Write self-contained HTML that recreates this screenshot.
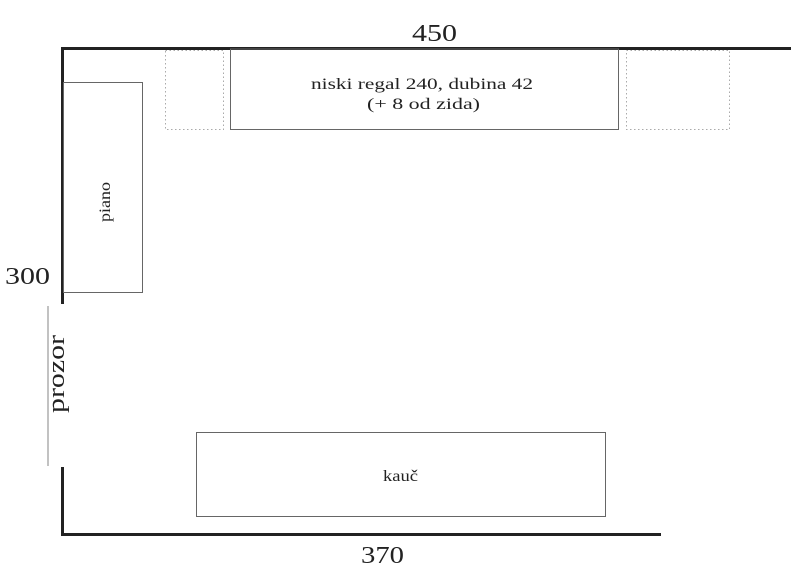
<!DOCTYPE html>
<html><head><meta charset="utf-8"><style>
html,body{margin:0;padding:0;background:#fff;}
svg{display:block;}
text{font-family:"Liberation Serif",serif;fill:#222;}
</style></head><body>
<svg width="797" height="572" viewBox="0 0 797 572" xmlns="http://www.w3.org/2000/svg">
<line x1="61" y1="48.5" x2="791" y2="48.5" stroke="#222" stroke-width="3"/>
<line x1="62.5" y1="47" x2="62.5" y2="304" stroke="#222" stroke-width="3"/>
<line x1="62.5" y1="467" x2="62.5" y2="536" stroke="#222" stroke-width="3"/>
<line x1="61" y1="534.5" x2="661" y2="534.5" stroke="#222" stroke-width="3"/>
<line x1="48" y1="306" x2="48" y2="466" stroke="#999" stroke-width="1.2"/>
<rect x="63.5" y="82.5" width="79" height="210" fill="none" stroke="#666" stroke-width="1"/>
<rect x="165.5" y="50.5" width="58" height="79" fill="none" stroke="#aaa" stroke-width="1" stroke-dasharray="1.5,2.5"/>
<rect x="626.5" y="50.5" width="103" height="79" fill="none" stroke="#aaa" stroke-width="1" stroke-dasharray="1.5,2.5"/>
<rect x="230.5" y="49" width="388" height="80.5" fill="none" stroke="#666" stroke-width="1"/>
<rect x="196.5" y="432.5" width="409" height="84" fill="none" stroke="#666" stroke-width="1"/>
<text x="412" y="41" font-size="24" textLength="45" lengthAdjust="spacingAndGlyphs">450</text>
<text x="5" y="284" font-size="24" textLength="45" lengthAdjust="spacingAndGlyphs">300</text>
<text x="361" y="563" font-size="24" textLength="43" lengthAdjust="spacingAndGlyphs">370</text>
<text x="311" y="89" font-size="16" textLength="222" lengthAdjust="spacingAndGlyphs">niski regal 240, dubina 42</text>
<text x="367" y="109" font-size="16" textLength="113" lengthAdjust="spacingAndGlyphs">(+ 8 od zida)</text>
<text x="383" y="481" font-size="16" textLength="35" lengthAdjust="spacingAndGlyphs">kauč</text>
<text transform="translate(110,222) rotate(-90)" font-size="16" textLength="40" lengthAdjust="spacingAndGlyphs">piano</text>
<text transform="translate(64,413) rotate(-90)" font-size="24" textLength="78" lengthAdjust="spacingAndGlyphs">prozor</text>
</svg>
</body></html>
